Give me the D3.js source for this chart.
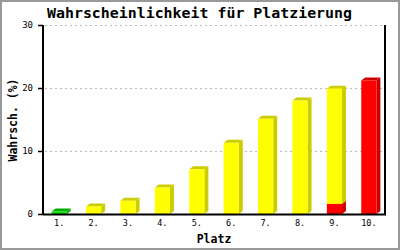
<!DOCTYPE html>
<html>
<head>
<meta charset="utf-8">
<script src="https://cdn.jsdelivr.net/npm/d3@7"></script>
<style>
  body { margin: 0; background: #fff; }
  svg { display: block; }
  text { font-family: "DejaVu Sans Mono", monospace; }
</style>
</head>
<body>
<svg id="chart" width="400" height="250"></svg>
<script>
// data
const places = ["1.", "2.", "3.", "4.", "5.", "6.", "7.", "8.", "9.", "10."];
const greenVals  = [0.4, 0, 0, 0, 0, 0, 0, 0, 0, 0];
const redVals    = [0, 0, 0, 0, 0, 0, 0, 0, 1.6, 21.2];
const yellowVals = [0, 1.2, 2.1, 4.2, 7.1, 11.3, 15.1, 18.0, 18.3, 0];
const yTicks = [0, 10, 20, 30];

document.addEventListener("DOMContentLoaded", function() {
    const svg = d3.select("#chart");

    // frame
    svg.append("rect")
        .attr("x", 1).attr("y", 1)
        .attr("width", 398).attr("height", 248)
        .attr("fill", "#fff")
        .attr("stroke", "#999")
        .attr("stroke-width", 2);

    const left = 43, right = 385, top = 25, bottom = 214;

    const x = d3.scaleBand()
        .domain(places)
        .range([left, right])
        .paddingInner(0.56)
        .paddingOuter(0.25);

    const y = d3.scaleLinear()
        .domain([0, 30])
        .range([bottom, top]);

    // dotted grid
    svg.selectAll("line.grid")
        .data(yTicks.filter(d => d > 0))
        .enter()
        .append("line")
        .attr("class", "grid")
        .attr("x1", left + 2).attr("x2", right)
        .attr("y1", d => y(d) + 0.5).attr("y2", d => y(d) + 0.5)
        .attr("stroke", "#bbb")
        .attr("stroke-dasharray", "2,3");

    // stacked data
    const rows = places.map((p, i) => ({ place: p, green: greenVals[i], red: redVals[i], yellow: yellowVals[i] }));
    const stack = d3.stack().keys(["green", "red", "yellow"]);
    const series = stack(rows);

    const fronts = { green: "#11dd11", red: "#ff0000", yellow: "#ffff00" };
    const sides  = { green: "#00b000", red: "#cc0000", yellow: "#cccc00" };
    const dx = 4, dy = 3;

    const bars = svg.append("g");
    series.forEach(s => {
        s.forEach(d => {
            if (d[1] - d[0] <= 0) return;
            const x0 = x(d.data.place);
            const w = x.bandwidth();
            const yt = y(d[1]);
            const yb = y(d[0]);
            // side face
            bars.append("polygon")
                .attr("points", [[x0 + w, yt], [x0 + w + dx, yt - dy], [x0 + w + dx, yb - dy], [x0 + w, yb]].join(" "))
                .attr("fill", sides[s.key]);
            // top face
            bars.append("polygon")
                .attr("points", [[x0, yt], [x0 + dx, yt - dy], [x0 + w + dx, yt - dy], [x0 + w, yt]].join(" "))
                .attr("fill", sides[s.key]);
            // front
            bars.append("rect")
                .attr("x", x0).attr("y", yt)
                .attr("width", w).attr("height", yb - yt)
                .attr("fill", fronts[s.key]);
        });
    });

    // axes lines
    svg.append("line")
        .attr("x1", left).attr("x2", left)
        .attr("y1", top).attr("y2", bottom + 1)
        .attr("stroke", "#000").attr("stroke-width", 2);
    svg.append("line")
        .attr("x1", right).attr("x2", right)
        .attr("y1", top).attr("y2", bottom + 1)
        .attr("stroke", "#000").attr("stroke-width", 2);
    svg.append("line")
        .attr("x1", left).attr("x2", right + 1)
        .attr("y1", bottom + 0.5).attr("y2", bottom + 0.5)
        .attr("stroke", "#000").attr("stroke-width", 2);

    // y ticks
    const yt = svg.selectAll("g.ytick")
        .data(yTicks)
        .enter()
        .append("g")
        .attr("class", "ytick");
    yt.append("line")
        .attr("x1", left - 5).attr("x2", left)
        .attr("y1", d => y(d) + 0.5).attr("y2", d => y(d) + 0.5)
        .attr("stroke", "#000").attr("stroke-width", 1.5);
    yt.append("text")
        .attr("x", 33)
        .attr("y", d => y(d))
        .attr("dy", "0.35em")
        .attr("text-anchor", "end")
        .attr("font-size", 9)
        .text(d => d);

    // x labels
    svg.selectAll("text.xlab")
        .data(places)
        .enter()
        .append("text")
        .attr("class", "xlab")
        .attr("x", d => x(d) + x.bandwidth() / 2)
        .attr("y", 226)
        .attr("text-anchor", "middle")
        .attr("font-size", 8.5)
        .text(d => d);

    // titles
    svg.append("text")
        .attr("x", 47).attr("y", 18)
        .attr("font-size", 14)
        .attr("font-weight", "bold")
        .attr("textLength", 305)
        .attr("lengthAdjust", "spacingAndGlyphs")
        .text("Wahrscheinlichkeit für Platzierung");

    svg.append("text")
        .attr("x", (left + right) / 2).attr("y", 243)
        .attr("text-anchor", "middle")
        .attr("font-size", 11.5)
        .attr("font-weight", "bold")
        .text("Platz");

    svg.append("text")
        .attr("transform", "translate(17,120) rotate(-90)")
        .attr("text-anchor", "middle")
        .attr("font-size", 11.5)
        .attr("font-weight", "bold")
        .text("Wahrsch. (%)");
});
</script>
</body>
</html>
